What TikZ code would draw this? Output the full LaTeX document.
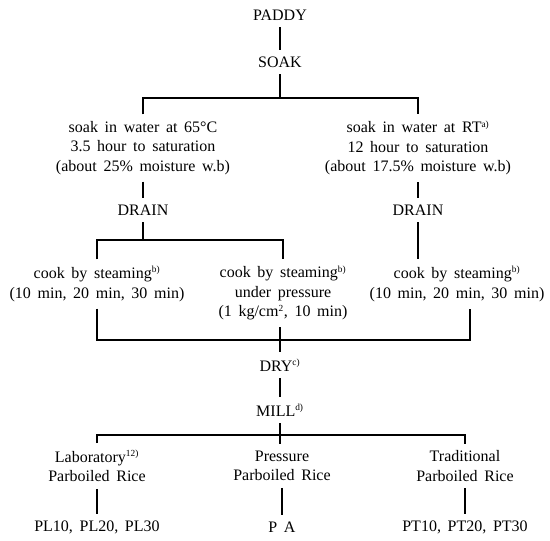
\documentclass[tikz,border=0pt]{standalone}
\usepackage{fontspec}
\setmainfont{Liberation Serif}
\newcommand{\fn}[1]{\textsuperscript{\scriptsize #1}}
\newcommand{\flowfont}{\fontsize{12}{14.6}\selectfont\spaceskip=5pt plus 1pt\relax}
\tikzset{
  txt/.style={font=\flowfont, align=center, inner xsep=0pt, inner ysep=5pt},
  ln/.style={line width=0.8pt}
}
\begin{document}
\begin{tikzpicture}[x=0.75pt,y=-0.75pt]
	\useasboundingbox (0,0) rectangle (550,541);
	% steps
	\node[txt] (paddy) at (280,15) {PADDY};
	\node[txt] (soak) at (280,62) {SOAK};
	\node[txt] (soakL) at (143,148) {soak in water at 65°C\\3.5 hour to saturation\\(about 25\% moisture w.b)};
	\node[txt] (soakR) at (418,148) {soak in water at RT\fn{a)}\\12 hour to saturation\\(about 17.5\% moisture w.b)};
	\node[txt] (drainL) at (143,210) {DRAIN};
	\node[txt] (drainR) at (418,210) {DRAIN};
	\node[txt] (cookL) at (97,284) {cook by steaming\fn{b)}\\(10 min, 20 min, 30 min)};
	\node[txt] (cookM) at (283,293) {cook by steaming\fn{b)}\\under pressure\\(1 kg/cm\fn{2}, 10 min)};
	\node[txt] (cookR) at (457,284) {cook by steaming\fn{b)}\\(10 min, 20 min, 30 min)};
	\node[txt] (dry) at (280,365) {DRY\fn{c)}};
	\node[txt] (mill) at (280,410) {MILL\fn{d)}};
	\node[txt] (lab) at (97,466) {Laboratory\fn{12)}\\Parboiled Rice};
	\node[txt] (pres) at (282,466) {Pressure\\Parboiled Rice};
	\node[txt] (trad) at (465,466) {Traditional\\Parboiled Rice};
	\node[txt] (pl) at (97,527) {PL10, PL20, PL30};
	\node[txt] (pa) at (282,527) {P A};
	\node[txt] (pt) at (465,527) {PT10, PT20, PT30};
	% junctions
	\coordinate (j1) at (280,98);
	\coordinate (j2) at (143,240);
	\coordinate (j3) at (470,340);
	\coordinate (j4) at (280,435);
	% connectors
	\draw[ln] (paddy) -- (soak);
	\draw[ln] (soak) -- (j1);
	\draw[ln] (soakL.north) |- (j1) -| (soakR.north);
	\draw[ln] (soakL) -- (drainL);
	\draw[ln] (soakR) -- (drainR);
	\draw[ln] (drainL) -- (j2);
	\draw[ln] (cookL.north) |- (j2) -| (cookM.north);
	\draw[ln] (drainR) -- (drainR |- cookR.north);
	\draw[ln] (cookL.south) |- (j3) -- (j3 |- cookR.south);
	\draw[ln] (dry |- cookM.south) -- (dry);
	\draw[ln] (dry) -- (mill);
	\draw[ln] (mill) -- (mill |- pres.north);
	\draw[ln] (lab.north) |- (j4) -| (trad.north);
	\draw[ln] (lab) -- (pl);
	\draw[ln] (pres) -- (pa);
	\draw[ln] (trad) -- (pt);
\end{tikzpicture}
\end{document}
